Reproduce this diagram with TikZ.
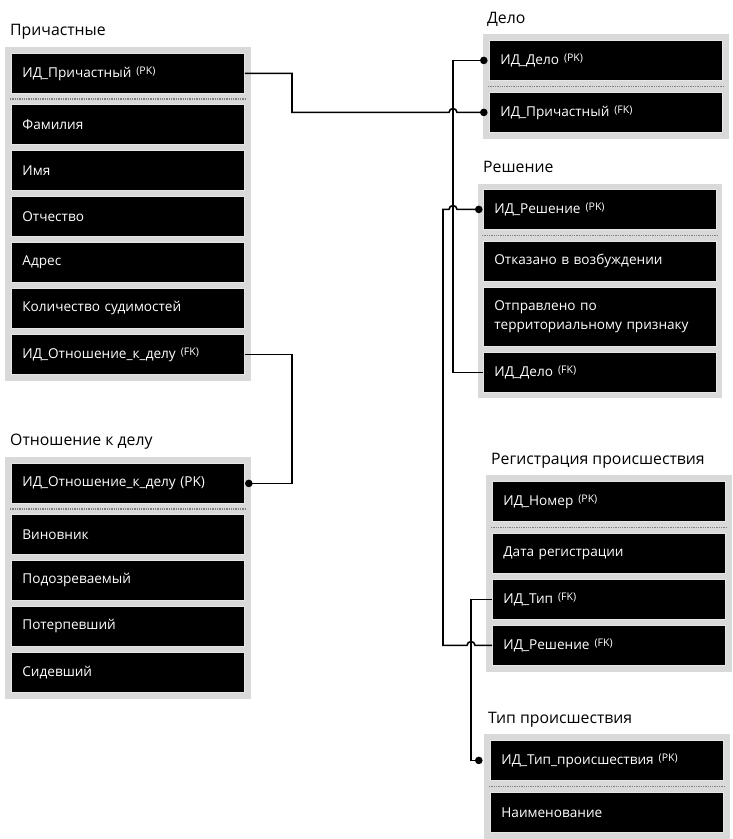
\documentclass[tikz,border=0pt]{standalone}
\usepackage{fontspec}
\setmainfont{Open Sans}
\usetikzlibrary{fit,calc}
\definecolor{framegray}{HTML}{D9D9D9}
\definecolor{rowedge}{HTML}{E6E6E6}
\pgfdeclarelayer{bg}
\pgfsetlayers{bg,main}
\newcommand\keysup[1]{\hspace{5pt}{\fontsize{10.5}{11}\selectfont\raisebox{3pt}{(#1)}}}
\tikzset{
  tbl/.style={fill=framegray, draw=none, inner sep=6pt},
  row/.style={anchor=north west, fill=black, draw=rowedge, line width=0.8pt,
    text=white, minimum width=233pt, minimum height=40pt, text width=211pt,
    inner xsep=11pt, inner ysep=0pt, align=left,
    font=\fontsize{13.6}{19.5}\selectfont},
  title/.style={anchor=base west, inner sep=0pt, font=\fontsize{15.8}{18}\selectfont},
  conn/.style={line width=1.6pt, line join=miter},
  sepline/.style={densely dotted, draw=gray, line width=1.3pt},
}
\begin{document}
\begin{tikzpicture}[x=1pt,y=-1pt]
\useasboundingbox (0,0) rectangle (732,839);

% ---------- Причастные
\node[title] (tp) at (10,35) {Причастные};
\node[row] (p1) at (11,53)  {ИД\_Причастный\keysup{PK}};
\node[row] (p2) at (11,104) {Фамилия};
\node[row] (p3) at (11,150) {Имя};
\node[row] (p4) at (11,196) {Отчество};
\node[row] (p5) at (11,242) {Адрес};
\node[row] (p6) at (11,288) {Количество судимостей};
\node[row] (p7) at (11,334) {ИД\_Отношение\_к\_делу\keysup{FK}};

% ---------- Отношение к делу
\node[title] (to) at (10,445) {Отношение к делу};
\node[row] (o1) at (11,463) {ИД\_Отношение\_к\_делу (PK)};
\node[row] (o2) at (11,514) {Виновник};
\node[row] (o3) at (11,560) {Подозреваемый};
\node[row] (o4) at (11,606) {Потерпевший};
\node[row] (o5) at (11,652) {Сидевший};

% ---------- Дело
\node[title] (td) at (487,23) {Дело};
\node[row] (d1) at (489,40) {ИД\_Дело\keysup{PK}};
\node[row] (d2) at (489,92) {ИД\_Причастный\keysup{FK}};

% ---------- Решение
\node[title] (tr) at (483,172) {Решение};
\node[row] (r1) at (483,189) {ИД\_Решение\keysup{PK}};
\node[row] (r2) at (483,241) {Отказано в возбуждении};
\node[row, minimum height=59pt] (r3) at (483,287) {Отправлено по\\территориальному признаку};
\node[row] (r4) at (483,352) {ИД\_Дело\keysup{FK}};

% ---------- Регистрация происшествия
\node[title] (tg) at (491,464) {Регистрация происшествия};
\node[row] (g1) at (492,481) {ИД\_Номер\keysup{PK}};
\node[row] (g2) at (492,533) {Дата регистрации};
\node[row] (g3) at (492,579) {ИД\_Тип\keysup{FK}};
\node[row] (g4) at (492,625) {ИД\_Решение\keysup{FK}};

% ---------- Тип происшествия
\node[title] (tt) at (488,723) {Тип происшествия};
\node[row] (t1) at (490,740) {ИД\_Тип\_происшествия\keysup{PK}};
\node[row] (t2) at (490,792) {Наименование};

% ---------- background and frames
\begin{pgfonlayer}{bg}
\fill[white] (0,0) rectangle (732,839);
\node[tbl, fit=(p1)(p7)] (pframe) {};
\node[tbl, fit=(o1)(o5)] (oframe) {};
\node[tbl, fit=(d1)(d2)] (dframe) {};
\node[tbl, inner sep=5pt, fit=(r1)(r4)] (rframe) {};
\node[tbl, fit=(g1)(g4)] (gframe) {};
\node[tbl, fit=(t1)(t2)] (tframe) {};
\end{pgfonlayer}

% ---------- separators
\draw[sepline] ($(p1.south west)!0.5!(p2.north west)+(-1,0)$) -- ($(p1.south east)!0.5!(p2.north east)+(1,0)$);
\draw[sepline] ($(o1.south west)!0.5!(o2.north west)+(-1,0)$) -- ($(o1.south east)!0.5!(o2.north east)+(1,0)$);
\draw[sepline] ($(d1.south west)!0.5!(d2.north west)+(-1,0)$) -- ($(d1.south east)!0.5!(d2.north east)+(1,0)$);
\draw[sepline] ($(r1.south west)!0.5!(r2.north west)+(-1,0)$) -- ($(r1.south east)!0.5!(r2.north east)+(1,0)$);
\draw[sepline] ($(g1.south west)!0.5!(g2.north west)+(-1,0)$) -- ($(g1.south east)!0.5!(g2.north east)+(1,0)$);
\draw[sepline] ($(t1.south west)!0.5!(t2.north west)+(-1,0)$) -- ($(t1.south east)!0.5!(t2.north east)+(1,0)$);

% ---------- connector buses
\coordinate (busL) at (292,0);
\coordinate (busB) at (453,0);
\coordinate (busC) at (443,0);
\coordinate (busD) at (471,0);

% Причастные PK -> Дело FK
\draw[conn] (p1.east) -| (busL |- d2.west)
  -- ($(busB |- d2.west)+(-4,0)$) .. controls +(0,-5) and +(0,-5) .. ($(busB |- d2.west)+(4,0)$)
  -- ($(dframe.west |- d2.west)+(1,0)$);
\fill ($(dframe.west |- d2.west)+(1,0)$) circle[radius=3.8pt];

% Дело PK -> Решение FK
\draw[conn] ($(dframe.west |- d1.west)+(1,0)$) -| (busB |- r4.west) -- (r4.west);
\fill ($(dframe.west |- d1.west)+(1,0)$) circle[radius=3.8pt];

% Решение PK -> Регистрация FK
\draw[conn] ($(rframe.west |- r1.west)+(1,0)$)
  -- ($(busB |- r1.west)+(4,0)$) .. controls +(0,-5) and +(0,-5) .. ($(busB |- r1.west)+(-4,0)$)
  -| (busC |- g4.west)
  -- ($(busD |- g4.west)+(-4,0)$) .. controls +(0,-5) and +(0,-5) .. ($(busD |- g4.west)+(4,0)$)
  -- (g4.west);
\fill ($(rframe.west |- r1.west)+(1,0)$) circle[radius=3.8pt];

% Регистрация ИД_Тип -> Тип PK
\draw[conn] (g3.west) -| (busD |- t1.west) -- ($(tframe.west |- t1.west)+(-5,0)$);
\fill ($(tframe.west |- t1.west)+(-5,0)$) circle[radius=3.8pt];

% Причастные ИД_Отношение -> Отношение PK
\draw[conn] (p7.east) -| (busL |- o1.east) -- ($(o1.east)+(4,0)$);
\fill ($(o1.east)+(4,0)$) circle[radius=3.8pt];
\end{tikzpicture}
\end{document}
